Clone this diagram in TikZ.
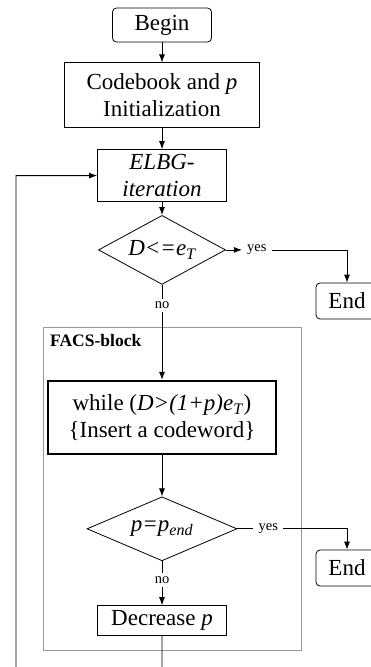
\documentclass[tikz,border=0pt]{standalone}
\usepackage{fontspec}
\setmainfont{Liberation Serif}
\usetikzlibrary{positioning, shapes.geometric, arrows.meta}

\begin{document}
\begin{tikzpicture}[
  x=1pt, y=-1pt,
  box/.style={rectangle, draw, line width=0.8pt, inner sep=0pt, align=center, font=\fontsize{23}{27}\selectfont},
  term/.style={box, rounded corners=4pt},
  cond/.style={diamond, draw, line width=0.8pt, inner sep=0pt, aspect=1.8, font=\fontsize{23}{27}\selectfont\itshape},
  lbl/.style={inner xsep=5pt, inner ysep=3pt, font=\fontsize{14.5}{16}\selectfont},
  arrow/.style={-{Latex[length=8pt, width=6pt]}, line width=0.8pt},
  line/.style={line width=0.8pt}
]
\useasboundingbox (0,0) rectangle (371,667);
\clip (0,0) rectangle (371,667);

% Main column
\node[term, minimum width=99pt, minimum height=34pt] (begin) at (162,25) {Begin};
\node[box, minimum width=195pt, minimum height=65pt] (init) [below=20pt of begin] {Codebook and \textit{p}\\Initialization};
\node[box, minimum width=129pt, minimum height=52pt] (elbg) [below=21pt of init] {\textit{ELBG-}\\\textit{iteration}};
\node[cond, minimum width=127pt, minimum height=69pt] (test) [below=13pt of elbg] {D<=e\textsubscript{T}};

% FACS block
\draw[gray!80, line width=0.6pt] (43,327) rectangle (301,650);
\node[anchor=north west, inner sep=0pt, font=\fontsize{17.5}{20}\selectfont\bfseries] (facs) at (50,334) {FACS-block};

\node[box, line width=2.6pt, minimum width=228pt, minimum height=73pt] (insert) [below=95pt of test] {while (\textit{D>(1+p)e}\textsubscript{\textit{T}})\\\{Insert a codeword\}};
\node[cond, minimum width=150pt, minimum height=64pt] (check) [below=41pt of insert] {p=p\textsubscript{end}};
\node[box, minimum width=129pt, minimum height=30pt] (decr) [below=44pt of check] {Decrease \textit{p}};

% Branch labels
\node[lbl] (no1) [below=14pt of test] {no};
\node[lbl] (no2) [below=12pt of check] {no};
\node[lbl] (yes1) [right=16pt of test] {yes};
\node[lbl] (yes2) [right=16pt of check] {yes};

% Exits
\node[term, minimum width=62pt, minimum height=36pt] (end1) at (347,301) {End};
\node[term, minimum width=62pt, minimum height=36pt] (end2) at (347,568) {End};

% Feedback corners
\coordinate (loopbot) at ([yshift=-50pt]decr.south);
\coordinate (loopleft) at (16,681);

% Arrows
\draw[arrow] (begin) -- (init);
\draw[arrow] (init) -- (elbg);
\draw[arrow] (elbg) -- (test);
\draw[arrow] (test) -- (yes1);
\draw[arrow] (yes1) -| (end1);
\draw[line] (test) -- (no1);
\draw[arrow] (no1) -- (insert);
\draw[arrow] (insert) -- (check);
\draw[line] (check) -- (yes2);
\draw[arrow] (yes2) -| (end2);
\draw[line] (check) -- (no2);
\draw[arrow] (no2) -- (decr);
\draw[arrow] (decr) -- (loopbot) -- (loopleft) |- (elbg);

\end{tikzpicture}
\end{document}
